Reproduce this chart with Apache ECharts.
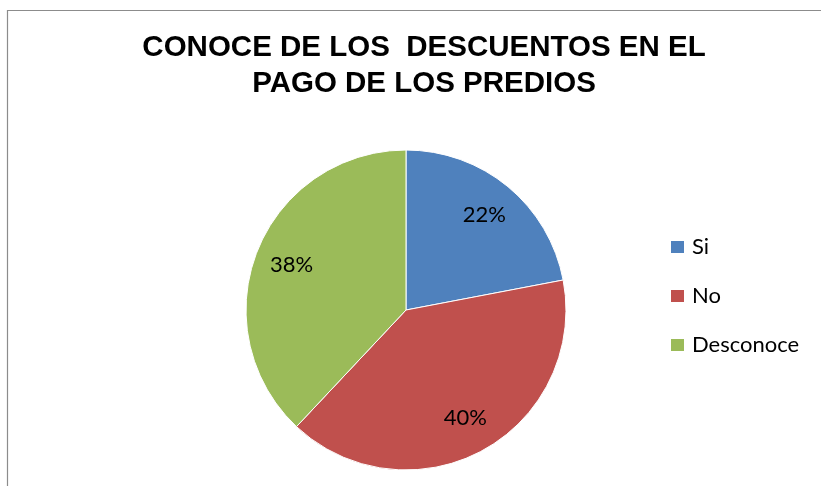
<!DOCTYPE html>
<html>
<head>
<meta charset="utf-8">
<script src="https://cdn.jsdelivr.net/npm/echarts@6/dist/echarts.min.js"></script>
<style>html,body{margin:0;padding:0;background:#fff;}#c{width:821px;height:486px;}</style>
</head>
<body>
<div id="c"></div>
<script>
var titleText = 'CONOCE DE LOS  DESCUENTOS EN EL\nPAGO DE LOS PREDIOS';
var categories = ['Si', 'No', 'Desconoce'];
var values = [22, 40, 38];
var colors = ['#4F81BD', '#C0504D', '#9BBB59'];

var chart = echarts.init(document.getElementById('c'), null, {renderer: 'canvas'});
var data = categories.map(function (c, i) {
  return {name: c, value: values[i], itemStyle: {color: colors[i]}};
});
var labelData = categories.map(function (c, i) {
  return {name: c, value: values[i]};
});
chart.setOption({
  backgroundColor: '#ffffff',
  animation: false,
  graphic: [{
    type: 'rect',
    shape: {x: 7.5, y: 10.5, width: 900, height: 600},
    style: {fill: 'none', stroke: '#8c8c8c', lineWidth: 1.2},
    silent: true, z: -1
  }],
  title: {
    text: titleText,
    left: 419, top: 25, textAlign: 'center',
    textStyle: {fontFamily: 'Liberation Sans, Arial', fontWeight: 'bold', fontSize: 29.5, lineHeight: 36, color: '#000'}
  },
  legend: {
    orient: 'vertical',
    left: 669, top: 236,
    padding: 0,
    itemWidth: 15, itemHeight: 14,
    itemGap: 27,
    icon: 'rect',
    data: categories,
    textStyle: {fontFamily: 'Lato, Carlito, sans-serif', fontSize: 22, color: '#000', lineHeight: 20, padding: [0, 0, 0, 2]}
  },
  series: [{
    type: 'pie',
    center: [406, 310],
    radius: 160,
    startAngle: 90,
    clockwise: true,
    silent: true,
    label: {show: false},
    labelLine: {show: false},
    itemStyle: {borderColor: '#fff', borderWidth: 1},
    data: data
  }, {
    type: 'pie',
    center: [406, 310],
    radius: 240,
    startAngle: 90,
    clockwise: true,
    silent: true,
    legendHoverLink: false,
    itemStyle: {color: 'rgba(0,0,0,0)', borderWidth: 0},
    label: {
      show: true, position: 'inside',
      formatter: function (p) { return Math.round(p.percent) + '%'; },
      fontFamily: 'Lato, Carlito, sans-serif', fontSize: 22, color: '#000'
    },
    labelLine: {show: false},
    data: labelData
  }]
});
</script>
</body>
</html>
